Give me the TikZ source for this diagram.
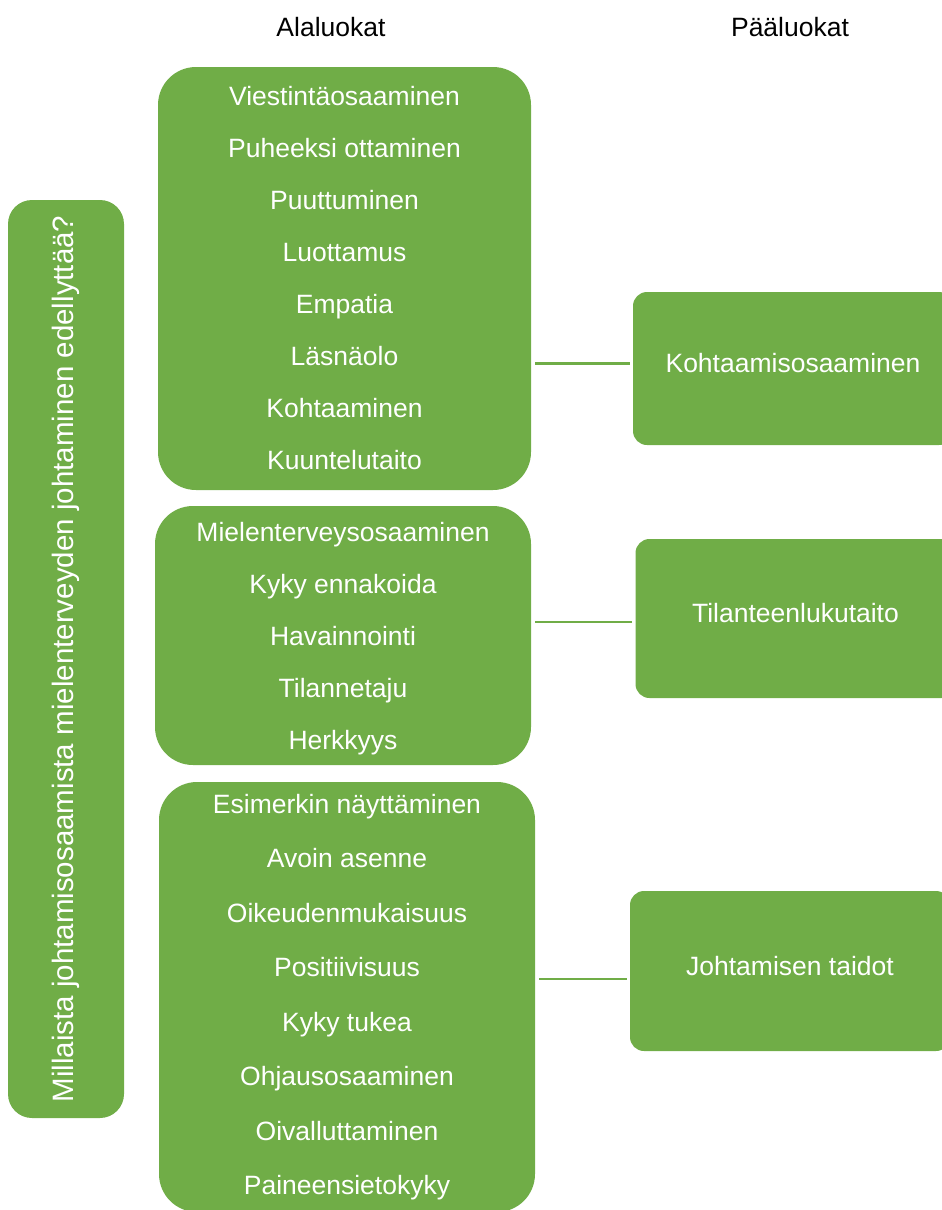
\documentclass[tikz,border=0pt]{standalone}
\usepackage{fontspec}
\setmainfont{Liberation Sans}
\definecolor{boxgreen}{HTML}{70AD47}

\begin{document}
\begin{tikzpicture}[x=1pt, y=-1pt, thick,
    sub node/.style={rectangle,rounded corners=38pt,fill=boxgreen,text=white,align=center,font=\fontsize{26.5}{52}\selectfont},
    main node/.style={rectangle,rounded corners=14pt,fill=boxgreen,text=white,font=\fontsize{26.5}{32}\selectfont,minimum width=320,text depth=11pt},
    head node/.style={font=\fontsize{26.5}{32}\selectfont}]

  \clip (0,0) rectangle (942,1210);

  \node[head node] (ala) at (331,27) {Alaluokat};
  \node[head node] (paa) at (790,27) {Pääluokat};

  \node[sub node,rounded corners=24pt,rotate=90,minimum width=918,minimum height=116,
        font=\fontsize{29.5}{34}\selectfont] (0) at (66,659)
        {Millaista johtamisosaamista mielenterveyden johtaminen edellyttää?};

  \node[sub node,minimum width=373,minimum height=423] (1) at (344.5,278.5)
        {Viestintäosaaminen\\ Puheeksi ottaminen\\ Puuttuminen\\ Luottamus\\
         Empatia\\ Läsnäolo\\ Kohtaaminen\\ Kuuntelutaito};
  \node[sub node,minimum width=376,minimum height=259] (2) at (343,635.5)
        {\rule{0pt}{25pt}Mielenterveysosaaminen\\ Kyky ennakoida\\ Havainnointi\\ Tilannetaju\\ Herkkyys};
  \node[sub node,minimum width=376,minimum height=430,
        font=\fontsize{26.5}{54.5}\selectfont] (3) at (347,997)
        {Esimerkin näyttäminen\\ Avoin asenne\\ Oikeudenmukaisuus\\ Positiivisuus\\
         Kyky tukea\\ Ohjausosaaminen\\ Oivalluttaminen\\ Paineensietokyky};

  \node[main node,minimum height=153] (4) at (793,368.5) {Kohtaamisosaaminen};
  \node[main node,minimum height=159] (5) at (795.5,618.5) {Tilanteenlukutaito};
  \node[main node,minimum height=160] (6) at (790,971) {Johtamisen taidot};

\path[draw=boxgreen,line width=2.8pt,shorten <=3pt,shorten >=4pt]
    ([yshift=5pt]4.west) edge ([yshift=5pt]4.west -| 1.east)
    ([yshift=-3.5pt]5.west) edge ([yshift=-3.5pt]5.west -| 2.east)
    ([yshift=-8pt]6.west) edge ([yshift=-8pt]6.west -| 3.east)
   ;

\end{tikzpicture}
\end{document}
